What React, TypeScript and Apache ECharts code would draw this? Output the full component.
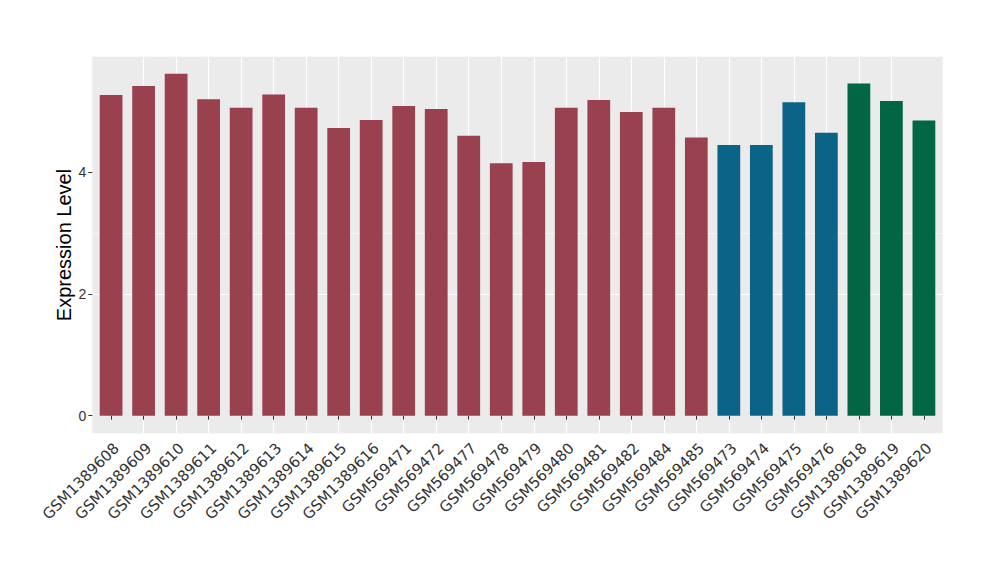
import React, { useEffect, useRef } from 'react';
import * as echarts from 'echarts';

const samples = [
  'GSM1389608', 'GSM1389609', 'GSM1389610', 'GSM1389611', 'GSM1389612', 'GSM1389613',
  'GSM1389614', 'GSM1389615', 'GSM1389616', 'GSM569471', 'GSM569472', 'GSM569477',
  'GSM569478', 'GSM569479', 'GSM569480', 'GSM569481', 'GSM569482', 'GSM569484',
  'GSM569485', 'GSM569473', 'GSM569474', 'GSM569475', 'GSM569476', 'GSM1389618',
  'GSM1389619', 'GSM1389620',
];
const values = [
  5.27, 5.42, 5.62, 5.2, 5.06, 5.28, 5.06, 4.73, 4.86, 5.09, 5.04, 4.6, 4.15,
  4.17, 5.06, 5.19, 4.99, 5.06, 4.57, 4.45, 4.45, 5.15, 4.65, 5.46, 5.17, 4.85,
];
const groups = [
  0, 0, 0, 0, 0, 0, 0, 0, 0, 0, 0, 0, 0, 0, 0, 0, 0, 0, 0, 1, 1, 1, 1, 2, 2, 2,
];
const groupColors = ['#9A4150', '#0A6487', '#006644'];
const majorTicks = [0, 2, 4];
const minorTicks = [1, 3, 5];
const yMin = -0.29;
const yMax = 5.9;

export default function App() {
  const ref = useRef<HTMLDivElement>(null);
  useEffect(() => {
    if (!ref.current) return;
    const chart = echarts.init(ref.current, undefined, { renderer: 'svg' });
    const panel = { left: 92.3, top: 56.7, width: 850.4, height: 376.6 };
    const pad = 0.578;
    const step = panel.width / (samples.length - 1 + 2 * pad);
    const inner = {
      left: panel.left + (pad - 0.5) * step,
      top: panel.top,
      width: step * samples.length,
      height: panel.height,
    };
    const sampleIdx = samples.map((_, i) => i);
    chart.setOption({
      animation: false,
      backgroundColor: '#FFFFFF',
      grid: [
        {
          ...panel,
          show: true,
          backgroundColor: '#EBEBEB',
          borderWidth: 0,
          containLabel: false,
        },
        { ...inner, show: false, containLabel: false },
      ],
      xAxis: [
        { gridIndex: 0, type: 'value', show: false, min: 0, max: 1 },
        {
          gridIndex: 1,
          type: 'category',
          data: samples,
          axisLine: { show: false },
          axisTick: {
            show: true,
            alignWithLabel: true,
            interval: 0,
            length: 4,
            lineStyle: { color: '#333333', width: 1 },
          },
          splitLine: { show: false },
          axisLabel: {
            interval: 0,
            rotate: 45,
            margin: 7,
            verticalAlign: 'top',
            fontFamily: 'DejaVu Sans',
            fontSize: 15,
            color: '#333333',
          },
        },
        {
          gridIndex: 1,
          type: 'value',
          position: 'top',
          min: -0.5,
          max: samples.length - 0.5,
          axisLine: { show: false },
          axisTick: { show: false, customValues: sampleIdx },
          axisLabel: { show: false, customValues: sampleIdx },
          splitLine: {
            show: true,
            showMinLine: false,
            showMaxLine: false,
            lineStyle: { color: '#FFFFFF', width: 1.2 },
          },
        },
      ],
      yAxis: [
        {
          gridIndex: 0,
          type: 'value',
          position: 'right',
          min: yMin,
          max: yMax,
          axisLine: { show: false },
          axisTick: { show: false, customValues: minorTicks },
          axisLabel: { show: false, customValues: minorTicks },
          splitLine: {
            show: true,
            showMinLine: false,
            showMaxLine: false,
            lineStyle: { color: '#F7F7F7', width: 0.8 },
          },
        },
        {
          gridIndex: 0,
          type: 'value',
          position: 'left',
          min: yMin,
          max: yMax,
          name: 'Expression Level',
          nameLocation: 'middle',
          nameGap: 18,
          nameMoveOverlap: false,
          nameTextStyle: { fontFamily: 'Liberation Sans', fontSize: 20, color: '#000000' },
          axisLine: { show: false },
          axisTick: {
            show: true,
            customValues: majorTicks,
            length: 4,
            lineStyle: { color: '#333333', width: 1 },
          },
          axisLabel: {
            customValues: majorTicks,
            fontFamily: 'Liberation Sans',
            fontSize: 14,
            color: '#333333',
            margin: 6,
          },
          splitLine: {
            show: true,
            showMinLine: false,
            showMaxLine: false,
            lineStyle: { color: '#FFFFFF', width: 1.2 },
          },
        },
        { gridIndex: 1, type: 'value', min: yMin, max: yMax, show: false },
      ],
      series: [
        {
          type: 'bar',
          xAxisIndex: 1,
          yAxisIndex: 2,
          barWidth: '70%',
          data: values.map((v, i) => ({
            value: v,
            itemStyle: { color: groupColors[groups[i]] },
          })),
        },
      ],
    });
    return () => chart.dispose();
  }, []);
  return (
    <div
      ref={ref}
      style={{ position: 'fixed', left: 0, top: 0, width: 1000, height: 580 }}
    />
  );
}
